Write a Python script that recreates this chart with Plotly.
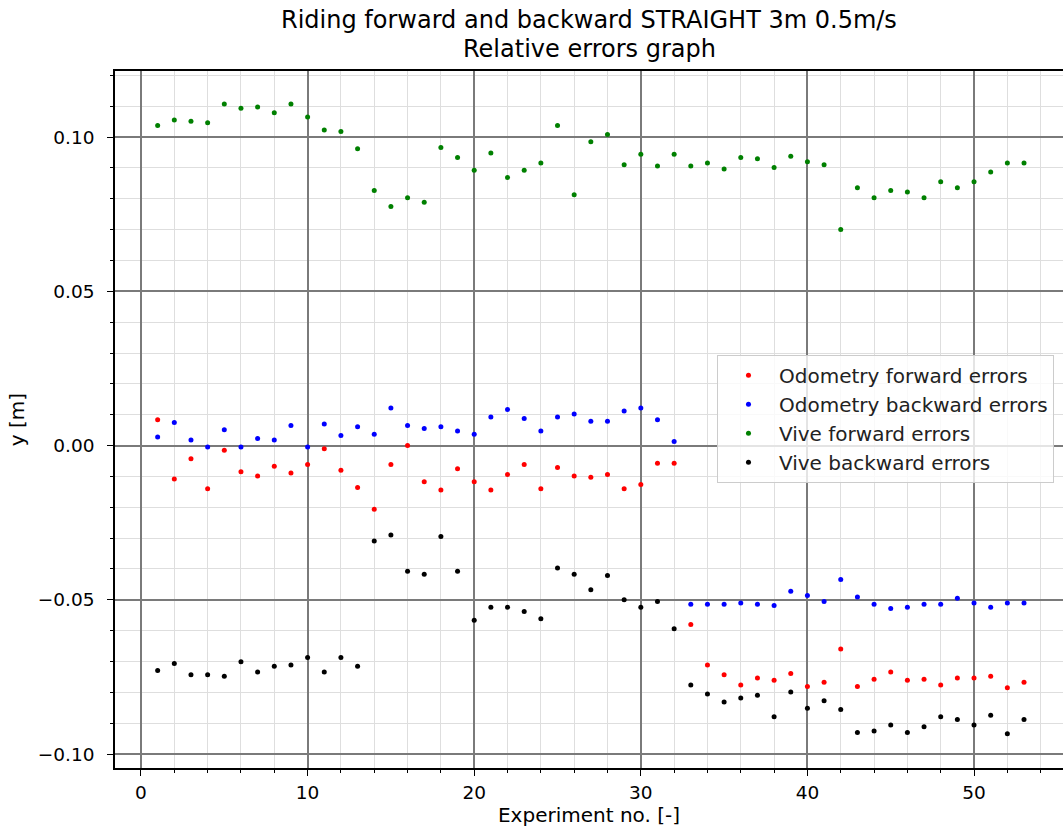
import plotly.graph_objects as go

# Experiment numbers
experiments = list(range(1, 54))

# Relative errors [m]
odometry_forward = [
    0.0084, -0.0108, -0.0043, -0.0140, -0.0015, -0.0085, -0.0099, -0.0067, -0.0089, -0.0061,
    -0.0010, -0.0080, -0.0136, -0.0206, -0.0061, 0.0000, -0.0117, -0.0144, -0.0075, -0.0117,
    -0.0144, -0.0094, -0.0061, -0.0140, -0.0071, -0.0099, -0.0103, -0.0094, -0.0140, -0.0126,
    -0.0057, -0.0057, -0.0580, -0.0711, -0.0743, -0.0776, -0.0753, -0.0761, -0.0739, -0.0781,
    -0.0767, -0.0659, -0.0781, -0.0757, -0.0734, -0.0761, -0.0757, -0.0776, -0.0753, -0.0753,
    -0.0748, -0.0785, -0.0767,
]
odometry_backward = [
    0.0028, 0.0075, 0.0018, -0.0005, 0.0051, -0.0005, 0.0023, 0.0018, 0.0065, -0.0005,
    0.0070, 0.0033, 0.0061, 0.0037, 0.0122, 0.0065, 0.0055, 0.0061, 0.0047, 0.0037,
    0.0093, 0.0117, 0.0088, 0.0047, 0.0093, 0.0102, 0.0079, 0.0079, 0.0112, 0.0122,
    0.0084, 0.0013, -0.0514, -0.0514, -0.0514, -0.0510, -0.0514, -0.0518, -0.0472, -0.0486,
    -0.0505, -0.0434, -0.0491, -0.0514, -0.0528, -0.0524, -0.0514, -0.0514, -0.0495, -0.0510,
    -0.0524, -0.0510, -0.0510,
]
vive_forward = [
    0.1037, 0.1055, 0.1051, 0.1046, 0.1107, 0.1093, 0.1097, 0.1079, 0.1107, 0.1065,
    0.1023, 0.1018, 0.0962, 0.0827, 0.0775, 0.0803, 0.0789, 0.0966, 0.0934, 0.0892,
    0.0948, 0.0869, 0.0892, 0.0916, 0.1037, 0.0813, 0.0985, 0.1008, 0.0910, 0.0944,
    0.0906, 0.0944, 0.0906, 0.0916, 0.0896, 0.0934, 0.0930, 0.0901, 0.0938, 0.0920,
    0.0910, 0.0700, 0.0836, 0.0803, 0.0827, 0.0822, 0.0803, 0.0855, 0.0836, 0.0855,
    0.0887, 0.0916, 0.0916,
]
vive_backward = [
    -0.0729, -0.0706, -0.0743, -0.0743, -0.0748, -0.0701, -0.0734, -0.0715, -0.0711, -0.0687,
    -0.0734, -0.0687, -0.0715, -0.0309, -0.0290, -0.0407, -0.0417, -0.0295, -0.0407, -0.0566,
    -0.0524, -0.0524, -0.0538, -0.0561, -0.0397, -0.0417, -0.0467, -0.0421, -0.0500, -0.0524,
    -0.0505, -0.0594, -0.0776, -0.0805, -0.0831, -0.0818, -0.0809, -0.0879, -0.0799, -0.0851,
    -0.0827, -0.0855, -0.0930, -0.0925, -0.0906, -0.0930, -0.0911, -0.0879, -0.0888, -0.0906,
    -0.0874, -0.0934, -0.0888,
]

series = [
    ("Odometry forward errors", odometry_forward, "#ff0000"),
    ("Odometry backward errors", odometry_backward, "#0000ff"),
    ("Vive forward errors", vive_forward, "#008000"),
    ("Vive backward errors", vive_backward, "#000000"),
]

title_lines = ["Riding forward and backward STRAIGHT 3m 0.5m/s", "Relative errors graph"]

FONT = "DejaVu Sans"
TICK_SIZE = 18.5
LABEL_SIZE = 20

fig = go.Figure()
for i, (name, values, color) in enumerate(series):
    fig.add_trace(go.Scatter(
        x=experiments, y=values, mode="markers", name=name,
        legendgroup=f"g{i}",
        marker=dict(size=5, color=color, line=dict(width=0)),
    ))

axis_common = dict(
    showline=True, linecolor="black", linewidth=1.5,
    ticks="outside", ticklen=6, tickwidth=1.3, tickcolor="black",
    showgrid=True, gridcolor="#7a7a7a", gridwidth=1.5,
    zeroline=False,
    tickfont=dict(family=FONT, size=TICK_SIZE, color="black"),
)

fig.update_layout(
    width=1063, height=829,
    margin=dict(l=115, r=0, t=71, b=61),
    plot_bgcolor="white", paper_bgcolor="white",
    font=dict(family=FONT, color="black"),
    xaxis=dict(
        **axis_common,
        range=[-1.56, 55.34],
        tickmode="linear", tick0=0, dtick=10,
        mirror=True,
        ticklabelstandoff=1,
        title=dict(text="Experiment no. [-]", font=dict(family=FONT, size=LABEL_SIZE), standoff=2),
        minor=dict(dtick=2, tick0=0, ticks="outside", ticklen=3.5, tickwidth=1, tickcolor="black",
                   showgrid=True, gridcolor="#dedede", gridwidth=1),
    ),
    yaxis=dict(
        **axis_common,
        range=[-0.1045, 0.1214],
        tickmode="linear", tick0=0, dtick=0.05, tickformat=".2f",
        ticklabelstandoff=9,
        title=dict(text="y [m]", font=dict(family=FONT, size=LABEL_SIZE), standoff=8),
        minor=dict(dtick=0.01, tick0=0, ticks="outside", ticklen=3.5, tickwidth=1, tickcolor="black",
                   showgrid=True, gridcolor="#dedede", gridwidth=1),
    ),
    legend=dict(
        x=0.635, y=0.593, xanchor="left", yanchor="top",
        bgcolor="rgba(255,255,255,0.8)", bordercolor="#cccccc", borderwidth=1,
        font=dict(family=FONT, size=LABEL_SIZE, color="#222222"),
        itemsizing="trace", itemwidth=51,
        traceorder="grouped", tracegroupgap=0,
    ),
)

# Two-line chart title above the plotting area
for text, shift in zip(title_lines, (51, 22)):
    fig.add_annotation(
        text=text, xref="paper", yref="paper", x=0.5, y=1,
        xanchor="center", yanchor="middle", yshift=shift, showarrow=False,
        font=dict(family=FONT, size=24, color="black"),
    )

fig.write_html("out.html")
